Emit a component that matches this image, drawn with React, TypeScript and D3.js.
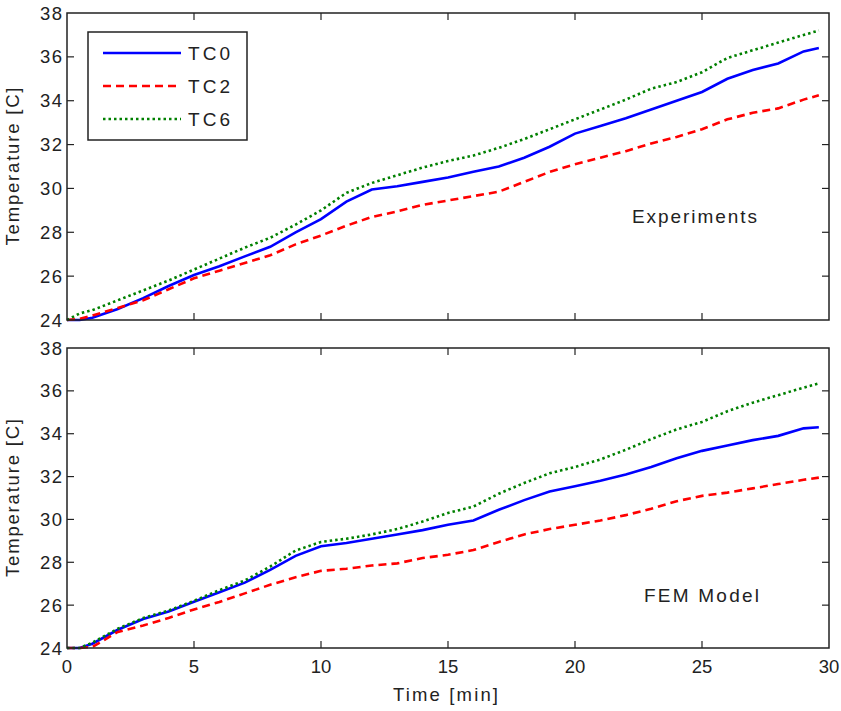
import React from 'react';
import * as d3 from 'd3';

// time grid shared by all curves [min]
const times = [0, 0.5, 1, 2, 3, 4, 5, 6, 7, 8, 9, 10, 11, 12, 13, 14, 15, 16, 17, 18, 19, 20, 21, 22, 23, 24, 25, 26, 27, 28, 29, 29.6];

// Experiments
const expTC0 = [24, 24, 24.1, 24.5, 25.0, 25.55, 26.05, 26.45, 26.9, 27.34, 28.0, 28.6, 29.4, 29.95, 30.1, 30.3, 30.5, 30.76, 31.0, 31.4, 31.9, 32.5, 32.85, 33.2, 33.6, 34.0, 34.4, 35.0, 35.4, 35.7, 36.25, 36.4];
const expTC2 = [24, 24.05, 24.2, 24.55, 24.9, 25.4, 25.9, 26.25, 26.6, 26.95, 27.45, 27.85, 28.3, 28.7, 28.95, 29.25, 29.45, 29.65, 29.85, 30.3, 30.75, 31.1, 31.4, 31.7, 32.05, 32.35, 32.7, 33.15, 33.45, 33.65, 34.05, 34.25];
const expTC6 = [24, 24.3, 24.45, 24.9, 25.35, 25.8, 26.3, 26.8, 27.3, 27.75, 28.35, 29.0, 29.8, 30.25, 30.6, 30.95, 31.25, 31.5, 31.85, 32.25, 32.7, 33.15, 33.6, 34.05, 34.55, 34.85, 35.3, 35.95, 36.3, 36.65, 37.0, 37.2];

// FEM model
const femTC0 = [24, 24, 24.2, 24.85, 25.35, 25.7, 26.16, 26.6, 27.05, 27.65, 28.3, 28.75, 28.9, 29.1, 29.3, 29.5, 29.75, 29.95, 30.45, 30.9, 31.3, 31.55, 31.8, 32.1, 32.45, 32.85, 33.2, 33.45, 33.7, 33.9, 34.25, 34.3];
const femTC2 = [24, 24, 24.05, 24.75, 25.05, 25.4, 25.8, 26.15, 26.55, 26.95, 27.3, 27.6, 27.7, 27.85, 27.95, 28.2, 28.35, 28.57, 28.95, 29.3, 29.55, 29.75, 29.95, 30.2, 30.5, 30.85, 31.1, 31.25, 31.45, 31.65, 31.85, 31.95];
const femTC6 = [24, 24, 24.25, 24.9, 25.4, 25.75, 26.2, 26.7, 27.15, 27.8, 28.55, 28.95, 29.1, 29.3, 29.55, 29.9, 30.3, 30.6, 31.2, 31.7, 32.15, 32.45, 32.8, 33.25, 33.75, 34.2, 34.55, 35.05, 35.45, 35.8, 36.15, 36.35];

const seriesNames = ['TC0', 'TC2', 'TC6'];
const xTicks = [0, 5, 10, 15, 20, 25, 30];
const yTicks = [24, 26, 28, 30, 32, 34, 36, 38];

const W = 841;
const H = 711;
const FONT = '"Liberation Sans", Arial, sans-serif';
const INK = '#222';
const FS = 18.5;

const styles = [
  { color: '#0000ff', dash: null },
  { color: '#ff0000', dash: '8,5' },
  { color: '#008000', dash: '2.5,3' },
];

const x = d3.scaleLinear().domain([0, 30]).range([67, 829]);

function Panel({ top, bottom, data, label, labelX, labelY, labelLen, showX, legend }) {
  const y = d3.scaleLinear().domain([24, 38]).range([bottom, top]);
  const line = d3.line<number>()
    .x((d, i) => x(times[i]))
    .y(d => y(d));
  const [x0, x1] = x.range();
  const tl = 7;
  return (
    <g>
      {data.map((vals, i) => (
        <path key={i} d={line(vals) || ''} fill="none" stroke={styles[i].color}
          strokeWidth={2.6} strokeDasharray={styles[i].dash || undefined} />
      ))}
      <rect x={x0} y={top} width={x1 - x0} height={bottom - top} fill="none" stroke={INK} strokeWidth={1.5} />
      {xTicks.slice(1, -1).map(t => (
        <g key={'x' + t}>
          <line x1={x(t)} x2={x(t)} y1={bottom} y2={bottom - tl} stroke={INK} strokeWidth={1.2} />
          <line x1={x(t)} x2={x(t)} y1={top} y2={top + tl} stroke={INK} strokeWidth={1.2} />
        </g>
      ))}
      {yTicks.slice(1, -1).map(t => (
        <g key={'y' + t}>
          <line x1={x0} x2={x0 + tl} y1={y(t)} y2={y(t)} stroke={INK} strokeWidth={1.2} />
          <line x1={x1} x2={x1 - tl} y1={y(t)} y2={y(t)} stroke={INK} strokeWidth={1.2} />
        </g>
      ))}
      {yTicks.map(t => (
        <text key={'yl' + t} x={x0 - 5 + 1.5} y={y(t) + 6.5} textAnchor="end" fontSize={FS}
          fontFamily={FONT} fill={INK} letterSpacing={1.5}>{t}</text>
      ))}
      {showX && xTicks.map(t => (
        <text key={'xl' + t} x={x(t)} y={bottom + 25} textAnchor="middle" fontSize={FS}
          fontFamily={FONT} fill={INK}>{t}</text>
      ))}
      <text transform={`translate(19,${(top + bottom) / 2}) rotate(-90)`} textAnchor="middle"
        fontSize={FS} fontFamily={FONT} fill={INK} textLength={158} lengthAdjust="spacing">Temperature [C]</text>
      <text x={labelX} y={labelY} fontSize={19} fontFamily={FONT} fill={INK}
        textLength={labelLen} lengthAdjust="spacing">{label}</text>
      {legend && (
        <g>
          <rect x={88} y={32} width={159} height={108} fill="#fff" stroke={INK} strokeWidth={1.5} />
          {seriesNames.map((n, i) => (
            <g key={n}>
              <line x1={103} x2={181} y1={53 + i * 33} y2={53 + i * 33} stroke={styles[i].color}
                strokeWidth={2.6} strokeDasharray={styles[i].dash || undefined} />
              <text x={188} y={53 + i * 33 + 7} fontSize={19} fontFamily={FONT} fill={INK}
                textLength={42} lengthAdjust="spacing">{n}</text>
            </g>
          ))}
        </g>
      )}
    </g>
  );
}

export default function App() {
  return (
    <svg width={W} height={H} style={{ position: 'absolute', left: 0, top: 0, background: '#fff' }}>
      <rect width={W} height={H} fill="#fff" />
      <Panel top={13} bottom={320} data={[expTC0, expTC2, expTC6]} label="Experiments"
        labelX={632} labelY={223} labelLen={125} showX={false} legend={true} />
      <Panel top={348} bottom={648} data={[femTC0, femTC2, femTC6]} label="FEM Model"
        labelX={644} labelY={602} labelLen={115} showX={true} legend={false} />
      <text x={393} y={701} fontSize={FS} fontFamily={FONT} fill={INK}
        textLength={105} lengthAdjust="spacing">Time [min]</text>
    </svg>
  );
}
